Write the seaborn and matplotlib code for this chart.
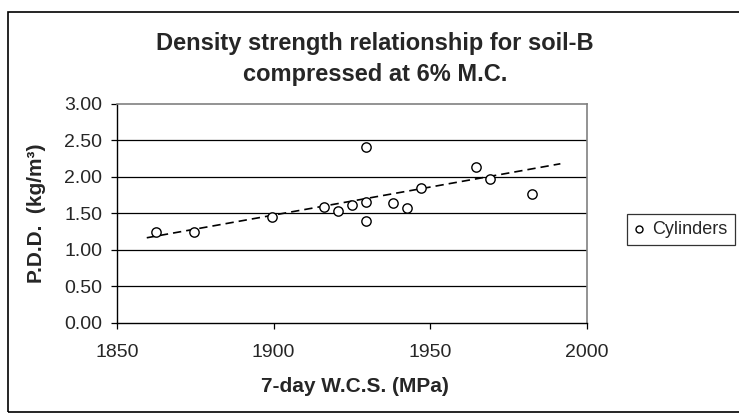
import matplotlib
matplotlib.use("Agg")
import matplotlib.pyplot as plt
import seaborn as sns
import pandas as pd
from matplotlib.patches import Rectangle

# data
wcs = [1862.6, 1874.7, 1899.5, 1916.1, 1920.6, 1925.0, 1929.4, 1929.4, 1929.4,
       1938.2, 1942.6, 1947.0, 1964.5, 1968.9, 1982.6]
pdd = [1.24, 1.24, 1.45, 1.59, 1.53, 1.62, 1.66, 1.39, 2.41,
       1.64, 1.57, 1.85, 2.14, 1.97, 1.77]
trend_x = [1859.5, 1991.5]
trend_y = [1.165, 2.18]
x_ticks = [1850, 1900, 1950, 2000]
y_ticks = [0.0, 0.5, 1.0, 1.5, 2.0, 2.5, 3.0]

df = pd.DataFrame({"wcs": wcs, "pdd": pdd})

sns.set_style("white")
plt.rcParams['font.family'] = ['Liberation Sans', 'DejaVu Sans']

W, H = 739, 416
fig = plt.figure(figsize=(W / 100, H / 100), dpi=100)
ax = fig.add_axes([117 / W, (H - 322.7) / H, (587 - 117) / W, (322.7 - 104) / H])

# gridlines
for v in y_ticks[1:-1]:
    ax.axhline(v, color="black", lw=0.9, zorder=0)

sns.lineplot(x=trend_x, y=trend_y, ax=ax, color="black", lw=1.2,
             linestyle=(0, (5, 3)), zorder=2)
sns.scatterplot(data=df, x="wcs", y="pdd", ax=ax, marker="o", s=45,
                facecolor="white", edgecolor="black", linewidth=1.0,
                zorder=3, label="Cylinders")

ax.set_xlim(1850, 2000)
ax.set_ylim(0, 3)
ax.set_xticks(x_ticks)
ax.set_yticks(y_ticks)
ax.set_yticklabels([f"{v:.2f}" for v in y_ticks], fontsize=14)
ax.set_xticklabels([str(v) for v in x_ticks], fontsize=14)
ax.tick_params(axis="both", direction="out", length=4.5, width=0.9, color="black",
               bottom=True, left=True)
ax.tick_params(axis="y", pad=6)
ax.tick_params(axis="x", pad=11)

for s in ["left", "bottom"]:
    ax.spines[s].set_color("black")
    ax.spines[s].set_linewidth(1.0)
for s in ["top", "right"]:
    ax.spines[s].set_color("#808080")
    ax.spines[s].set_linewidth(1.2)

ax.set_xlabel("")
ax.set_ylabel("")
fig.text(355 / W, 1 - 387 / H, "7-day W.C.S. (MPa)", ha="center", va="center",
         fontsize=15, fontweight="bold")
fig.text(36 / W, 1 - 213 / H, "P.D.D.  (kg/m³)", ha="center", va="center",
         rotation=90, fontsize=15, fontweight="bold")
fig.text(375 / W, 1 - 59 / H, "Density strength relationship for soil-B\ncompressed at 6% M.C.",
         ha="center", va="center", fontsize=17, fontweight="bold", linespacing=1.45)

leg = ax.legend(loc="upper left", bbox_to_anchor=(627 / W, 1 - 214 / H),
                bbox_transform=fig.transFigure, frameon=True, fancybox=False,
                fontsize=13, markerscale=0.75, handlelength=0.5, handletextpad=0.5,
                borderpad=0.4, borderaxespad=0)
leg.get_frame().set_edgecolor("black")
leg.get_frame().set_linewidth(0.9)

# outer chart border
fig.patches.append(Rectangle((8 / W, 4 / H), 1.2, (412 - 12) / H,
                             transform=fig.transFigure, fill=False,
                             edgecolor="black", lw=1.2, zorder=0))

fig.savefig("out.png", dpi=100)
